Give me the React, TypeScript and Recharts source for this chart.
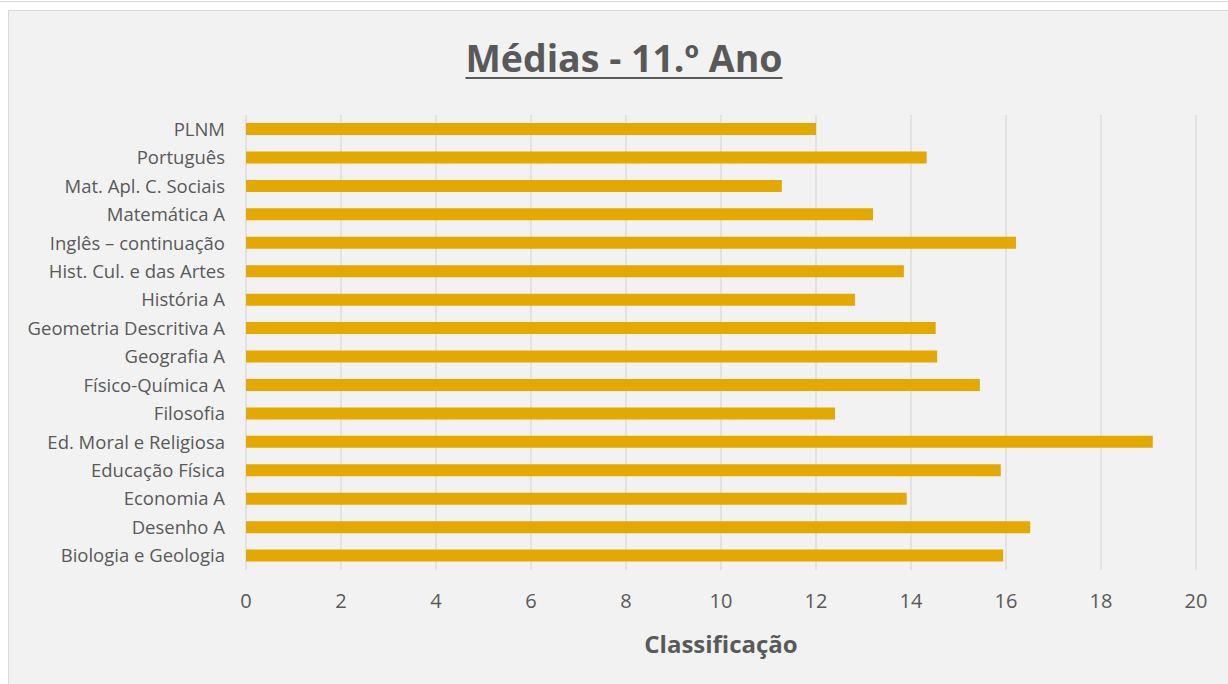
import { BarChart, Bar, XAxis, YAxis, CartesianGrid } from "recharts";

const subjects = [
  "PLNM",
  "Português",
  "Mat. Apl. C. Sociais",
  "Matemática A",
  "Inglês – continuação",
  "Hist. Cul. e das Artes",
  "História A",
  "Geometria Descritiva A",
  "Geografia A",
  "Físico-Química A",
  "Filosofia",
  "Ed. Moral e Religiosa",
  "Educação Física",
  "Economia A",
  "Desenho A",
  "Biologia e Geologia",
];

const averages = [
  12.0, 14.33, 11.28, 13.2, 16.21, 13.85, 12.82, 14.52, 14.55, 15.45, 12.4,
  19.09, 15.89, 13.91, 16.51, 15.94,
];

const xTicks = [0, 2, 4, 6, 8, 10, 12, 14, 16, 18, 20];

const data = subjects.map((subject, i) => ({ subject, media: averages[i] }));

const textColor = "#595959";
const font = "'Open Sans', sans-serif";

export default function App() {
  return (
    <div
      style={{
        position: "absolute",
        left: 0,
        top: 0,
        width: 1228,
        height: 684,
        overflow: "hidden",
        background: "#ffffff",
        fontFamily: font,
      }}
    >
      <div
        style={{
          position: "absolute",
          left: 0,
          top: 1,
          width: 1228,
          height: 0,
          borderTop: "1px solid #d9d9d9",
        }}
      />
      <div
        style={{
          position: "absolute",
          left: 8,
          top: 10,
          width: 1232,
          height: 690,
          background: "#f2f2f2",
          border: "1px solid #d9d9d9",
          boxSizing: "border-box",
        }}
      />
      <div
        style={{
          position: "absolute",
          left: 8,
          top: 33,
          width: 1232,
          textAlign: "center",
          fontSize: 37.5,
          lineHeight: "50px",
          fontWeight: 700,
          color: textColor,
          textDecoration: "underline",
          textDecorationThickness: 2,
          textUnderlineOffset: 5,
        }}
      >
        Médias - 11.º Ano
      </div>
      <div style={{ position: "absolute", left: 0, top: 0 }}>
        <BarChart
          width={1228}
          height={684}
          data={data}
          layout="vertical"
          margin={{ top: 115, right: 32, left: 0, bottom: 0 }}
        >
          <CartesianGrid
            horizontal={false}
            stroke="#d9d9d9"
            strokeWidth={1.3}
          />
          <XAxis
            type="number"
            domain={[0, 20]}
            ticks={xTicks}
            interval={0}
            axisLine={false}
            tickLine={false}
            height={114}
            tickMargin={18}
            tick={{ fontSize: 20, fill: textColor, fontFamily: font }}
            label={{
              value: "Classificação",
              position: "insideBottom",
              offset: 31,
              fill: textColor,
              fontSize: 24,
              fontWeight: 700,
              fontFamily: font,
            }}
          />
          <YAxis
            type="category"
            dataKey="subject"
            width={246}
            axisLine={false}
            tickLine={false}
            tickMargin={15}
            interval={0}
            tick={{ fontSize: 18.5, fill: textColor, fontFamily: font }}
          />
          <Bar
            dataKey="media"
            fill="#e3a900"
            barSize={12}
            isAnimationActive={false}
          />
        </BarChart>
      </div>
    </div>
  );
}
